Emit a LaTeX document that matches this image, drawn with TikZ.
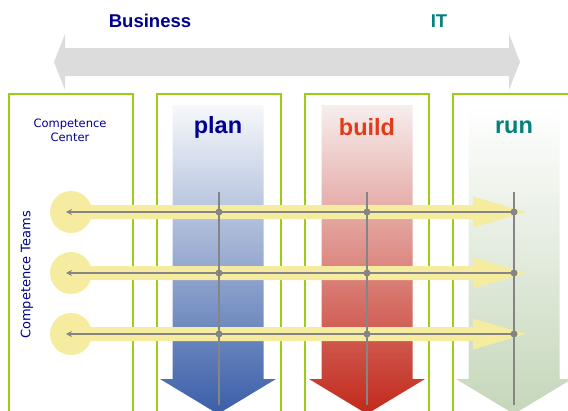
\documentclass[tikz,border=0pt]{standalone}
\usepackage{fontspec}
\setmainfont{Liberation Sans}
\newfontfamily\labelfont{DejaVu Sans}
\usepackage{xcolor}
\usetikzlibrary{
    positioning,
    calc,
    arrows.meta
}
\definecolor{bizblue}{HTML}{000090}
\definecolor{itteal}{HTML}{008080}
\definecolor{buildred}{HTML}{E33A18}
\definecolor{axisgray}{HTML}{DCDCDC}
\definecolor{framegreen}{HTML}{9ACD14}
\definecolor{teamyellow}{HTML}{F6EC9F}
\definecolor{linegray}{HTML}{858585}
\definecolor{planlight}{HTML}{F7F8FB}
\definecolor{planmid}{HTML}{BAC3DB}
\definecolor{plandark}{HTML}{3A5EA8}
\definecolor{buildlight}{HTML}{F7EEEE}
\definecolor{buildmid}{HTML}{E6BDBA}
\definecolor{builddark}{HTML}{C2281A}
\definecolor{runlight}{HTML}{FFFFFF}
\definecolor{runmid}{HTML}{E6EDE2}
\definecolor{rundark}{HTML}{C5D6BA}
\tikzset{
  heading/.style = {
      font=\bfseries\fontsize{18.5}{22}\selectfont
  },
  phase/.style = {
      font=\bfseries\fontsize{23.5}{27}\selectfont
  },
  small label/.style = {
      font=\labelfont\fontsize{11.5}{14}\selectfont,
      text=bizblue,
      align=center
  },
  column/.style = {
      draw=framegreen,
      line width=1.2pt
  },
  team/.style = {
      circle,
      fill=teamyellow,
      minimum size=42pt,
      inner sep=0pt
  },
  cross/.style = {
      circle,
      fill=linegray,
      minimum size=7pt,
      inner sep=0pt
  },
  grid line/.style = {
      draw=linegray,
      line width=1.8pt
  },
  band/.style = {
      fill=teamyellow
  }
}

\begin{document}
\begin{tikzpicture}[x=1pt, y=-1pt]
    \clip (0,0) rectangle (568,410);
    % Business / IT axis
    \fill[axisgray] (54,62) -- (65,34) -- (65,48) -- (509,48) -- (509,34)
        -- (520,62) -- (509,90) -- (509,76) -- (65,76) -- (65,90) -- cycle;
    \node[heading, text=bizblue] (business) at (150,21) {Business};
    \node[heading, text=itteal] (it) at (439,21) {IT};
    % Columns
    \foreach \x in {9,157,305,453}
        \draw[column] (\x,412) -- (\x,94) -- ++(124,0) -- ++(0,318);
    % Phase arrows
    \foreach \c/\light/\mid/\dark in {218/planlight/planmid/plandark,
                                      367/buildlight/buildmid/builddark,
                                      514/runlight/runmid/rundark}
        \shade[top color=\light, middle color=\mid, bottom color=\dark]
            (\c-45.5,105) -- (\c+45.5,105) -- (\c+45.5,379) -- (\c+58,379)
            -- (\c,414) -- (\c-58,379) -- (\c-45.5,379) -- cycle;
    \node[phase, text=bizblue] (plan) at (218,127) {plan};
    \node[phase, text=buildred] (build) at (367,127) {build};
    \node[phase, text=itteal] (run) at (514,127) {run};
    % Competence labels
    \node[small label] (center) at (70,130) {Competence\\Center};
    \node[small label, rotate=90, font=\labelfont\fontsize{13}{15}\selectfont]
        (teams) at (27,275) {Competence Teams};
    % Teams
    \foreach \y [count=\i] in {212,273,334} {
        \fill[band] (71,\y-7) -- (473,\y-7) -- (473,\y-15.5) -- (526,\y)
            -- (473,\y+15.5) -- (473,\y+7) -- (71,\y+7) -- cycle;
        \node[team] (team\i) at (71,\y) {};
        \foreach \c/\n in {219/p,367/b,514/r}
            \coordinate (\n\i) at (\c,\y);
    }
    % Grid
    \foreach \c/\n in {219/p,367/b,514/r} {
        \coordinate (\n top) at (\c,192);
        \coordinate (\n bot) at (\c,405);
        \draw[grid line] (\n top) -- (\n bot);
    }
    \foreach \i in {1,2,3}
        \draw[grid line, line width=1.6pt, -{Stealth[length=6pt,width=6pt]}]
            (r\i) -- ([xshift=-5pt]team\i.center);
    \foreach \i in {1,2,3}
        \foreach \n in {p,b,r}
            \node[cross] (dot \n\i) at (\n\i) {};
\end{tikzpicture}
\end{document}
